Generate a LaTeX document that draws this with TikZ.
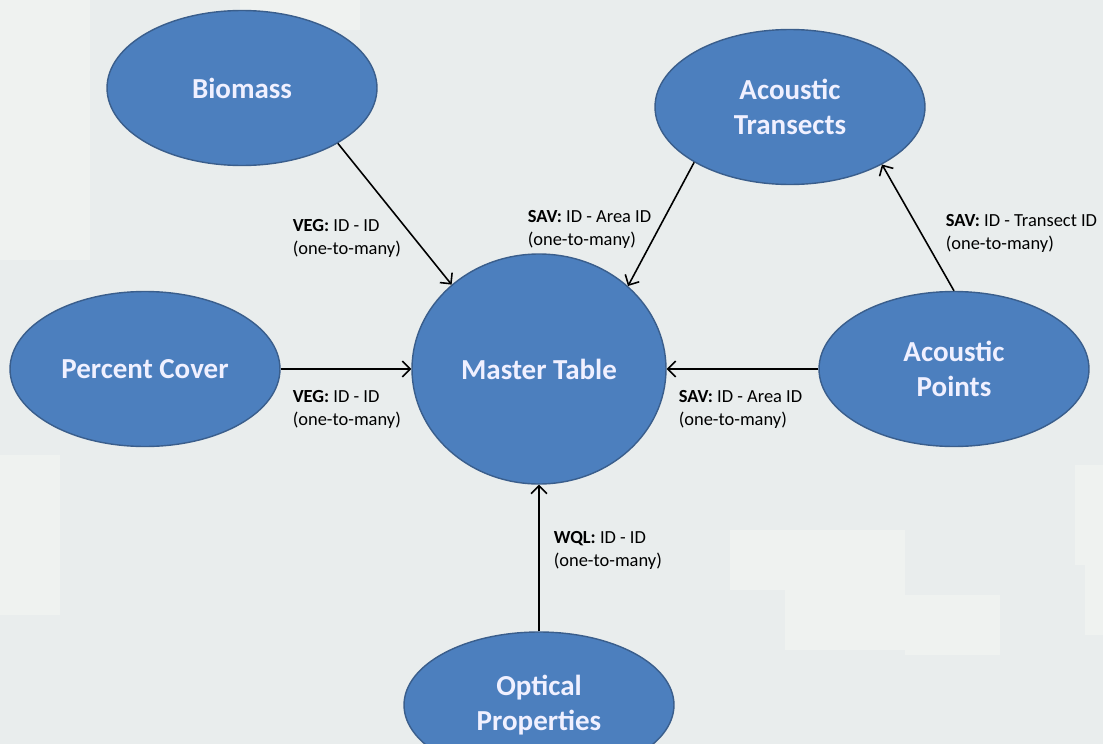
\documentclass[tikz,border=0pt]{standalone}
\usepackage{fontspec}
\setmainfont{Carlito}
\usetikzlibrary{shapes.geometric, arrows.meta}

\definecolor{tableblue}{RGB}{76,127,190}
\definecolor{tableedge}{RGB}{58,94,140}
\definecolor{backgray}{RGB}{233,237,237}
\definecolor{patchlight}{RGB}{239,242,240}

\begin{document}
\begin{tikzpicture}[x=0.02cm, y=-0.02cm, >={Straight Barb[length=4.5pt, width=9pt]}, line width=0.9pt,
    table/.style={ellipse, draw=tableedge, line width=0.8pt, fill=tableblue, text=white!94!blue,
        minimum width=5.4cm, minimum height=3.1cm,
        font=\fontsize{16.5}{20}\selectfont\bfseries, align=center, inner sep=0pt},
    link/.style={font=\fontsize{10.5}{13}\selectfont, align=left, anchor=north west, inner sep=0pt}]

    % Background
    \fill[backgray] (0,0) rectangle (1103,744);
    \foreach \x/\y/\w/\h in {0/0/90/260, 0/455/60/160, 785/530/120/120, 730/530/70/60,
                             905/595/95/60, 1075/465/28/100, 1085/555/18/80, 240/0/120/30}
        \fill[patchlight] (\x,\y) rectangle ++(\w,\h);
    \clip (0,0) rectangle (1103,744);

    % Tables
    \node[table] (biomass) at (242,88) {Biomass};
    \node[table] (transects) at (790,107) {Acoustic\\Transects};
    \node[table] (cover) at (145,369) {Percent Cover};
    \node[table, minimum width=254*0.02cm, minimum height=230*0.02cm] (master) at (539,369) {Master Table};
    \node[table] (points) at (954,369) {Acoustic\\Points};
    \node[table, minimum height=146*0.02cm] (optical) at (539,705) {Optical\\Properties};

    % Relations
    \draw[->] (biomass.-30) -- (master.136);
    \draw[->] (transects.210) -- (master.43);
    \draw[->] (cover) -- (master);
    \draw[->] (points) -- (master);
    \draw[->] (optical) -- (master);
    \draw[->] (points.north) -- (transects.-32);

    % Keys
    \node[link] (vegbio) at (292,219) {\textbf{VEG:} ID - ID\\(one-to-many)};
    \node[link] (savtran) at (527,210) {\textbf{SAV:} ID - Area ID\\(one-to-many)};
    \node[link] (savpts) at (945,214) {\textbf{SAV:} ID - Transect ID\\(one-to-many)};
    \node[link] (vegcov) at (292,390) {\textbf{VEG:} ID - ID\\(one-to-many)};
    \node[link] (savarea) at (678,390) {\textbf{SAV:} ID - Area ID\\(one-to-many)};
    \node[link] (wql) at (553,531) {\textbf{WQL:} ID - ID\\(one-to-many)};
\end{tikzpicture}
\end{document}
